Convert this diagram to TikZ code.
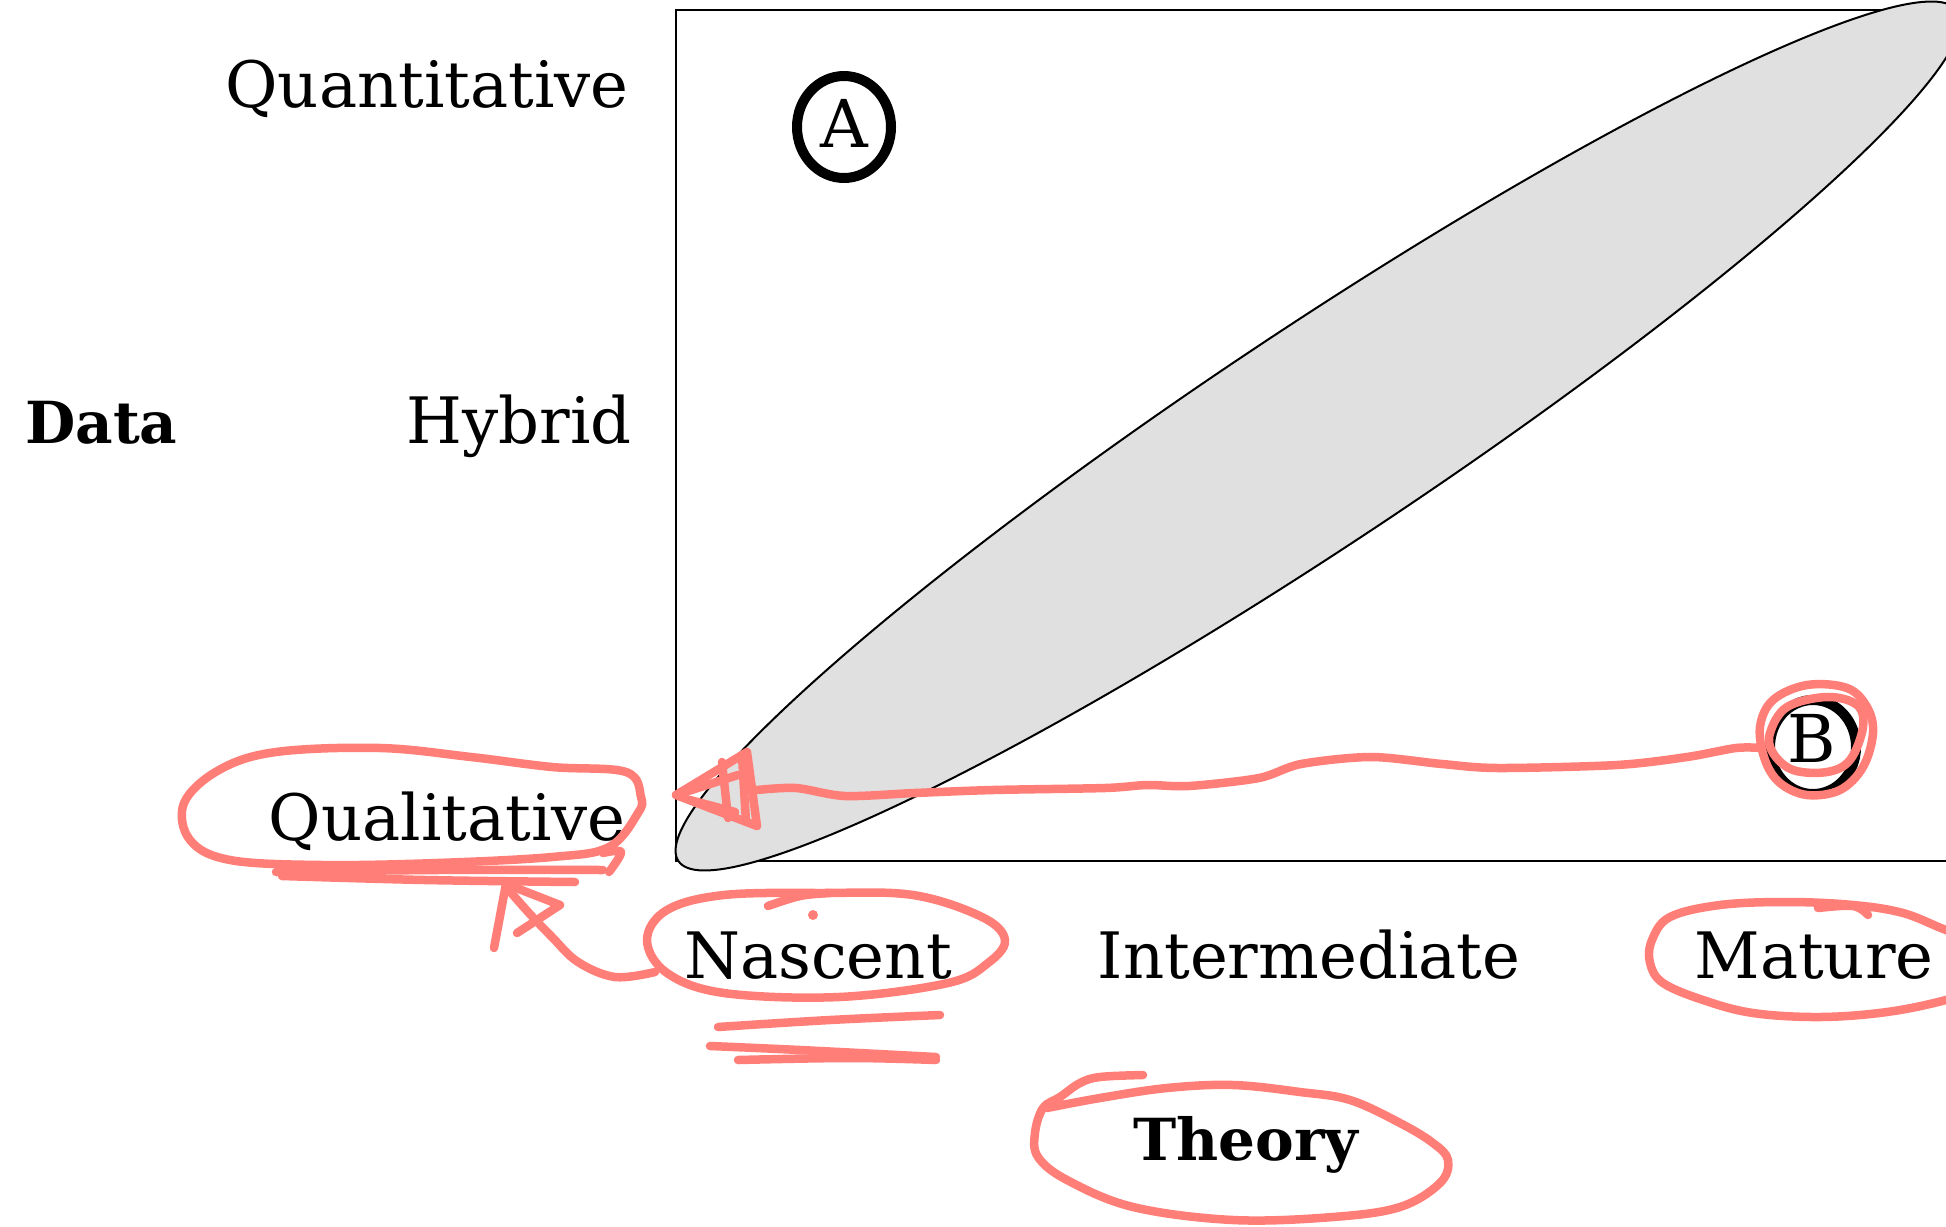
\documentclass[tikz,border=0pt]{standalone}
\usepackage{fontspec}
\setmainfont{DejaVu Serif}
\definecolor{annc}{HTML}{FF7F78}
\definecolor{band}{gray}{0.88}
\begin{document}
\begin{tikzpicture}[x=1pt,y=-1pt,
  lbl/.style={font=\fontsize{64}{70}\selectfont, inner sep=0pt},
  boldlbl/.style={font=\fontsize{58}{64}\selectfont\bfseries, inner sep=0pt},
  letter/.style={font=\fontsize{66}{70}\selectfont, inner sep=0pt, anchor=base},
  ring/.style={draw=black, line width=10pt},
  ann/.style={draw=annc, line width=8.5pt, line cap=round, line join=round},
]
\useasboundingbox (0,0) rectangle (1946,1226);
\fill[white] (0,0) rectangle (1946,1226);
\begin{scope}
\clip (0,0) rectangle (1946,1226);
% frame
\draw[line width=2.5pt] (676,10) rectangle (2000,861);
% band
\filldraw[fill=band, draw=black, line width=2pt, rotate around={33.6:(1318,436)}]
  (1318,436) ellipse [x radius=768pt, y radius=108pt];
% axis labels
\node[lbl, anchor=base east] (quant) at (629,107) {Quantitative};
\node[lbl, anchor=base east] (hyb) at (632,443) {Hybrid};
\node[lbl, anchor=base east] (qual) at (626,840) {Qualitative};
\node[boldlbl, anchor=base west] (data) at (25,443) {Data};
\node[lbl, anchor=base] (nasc) at (818,978) {Nascent};
\node[lbl, anchor=base] (inter) at (1309,978) {Intermediate};
\node[lbl, anchor=base] (mat) at (1814,978) {Mature};
\node[boldlbl, anchor=base] (theory) at (1246,1160) {Theory};
% circled letters
\node[letter] (A) at (844,147) {A};
\draw[ring] (844,127) ellipse [x radius=47pt, y radius=51pt];
\node[letter] (B) at (1812,762) {B};
\draw[ring] (1813,747) ellipse [x radius=43pt, y radius=47pt];

% ---- hand-drawn annotations ----
% loop around Qualitative
\draw[ann] plot[smooth cycle, tension=0.6] coordinates {(626,772) (552,767) (471,757) (380,748) (276,752) (219,770) (184,803) (190,840) (230,860) (322,865) (437,863) (552,857) (609,847) (638,813) (641,797)};
\draw[ann] plot[smooth, tension=0.6] coordinates {(276,872) (437,870) (603,870)};
\draw[ann] plot[smooth, tension=0.6] coordinates {(282,876) (425,880) (575,882)};
\draw[ann] plot[smooth, tension=0.6] coordinates {(603,853) (621,852) (609,872)};
% arrow Nascent -> Qualitative
\draw[ann] plot[smooth, tension=0.6] coordinates {(655,972) (615,977) (578,962) (552,937) (529,913) (507,888)};
\draw[ann] (494,948) -- (506,884) -- (560,905) -- (517,933);
% loop around Nascent
\draw[ann] plot[smooth cycle, tension=0.6] coordinates {(822,893) (913,895) (982,917) (1005,940) (988,963) (948,983) (839,997) (724,993) (667,973) (647,940) (667,910) (724,895)};
\draw[ann] plot[smooth, tension=0.6] coordinates {(768,906) (800,896) (830,893)};
\fill[annc] (813,915) circle (5pt);
\draw[ann] plot[smooth, tension=0.6] coordinates {(718,1027) (830,1020) (940,1015)};
\draw[ann] plot[smooth, tension=0.6] coordinates {(710,1046) (800,1050) (936,1057)};
\draw[ann] plot[smooth, tension=0.6] coordinates {(738,1060) (850,1058) (936,1060)};
% loop around Theory
\draw[ann] plot[smooth, tension=0.6] coordinates {(1143,1075) (1100,1077) (1080,1083) (1060,1097) (1043,1108) (1035,1133) (1038,1157) (1067,1180) (1133,1207) (1233,1220) (1333,1217) (1400,1207) (1440,1183) (1448,1160) (1433,1143) (1400,1123) (1350,1100) (1300,1092) (1233,1085) (1167,1088) (1100,1098) (1047,1108)};
% loop around Mature
\draw[ann] plot[smooth, tension=0.6] coordinates {(1990,945) (1946,930) (1903,913) (1853,905) (1787,902) (1720,905) (1670,917) (1652,940) (1650,963) (1663,983) (1703,1000) (1753,1013) (1820,1017) (1887,1012) (1946,1000) (1990,985)};
\draw[ann] plot[smooth, tension=0.6] coordinates {(1818,908) (1853,906) (1868,915)};
% loops around B
\draw[ann] plot[smooth cycle, tension=0.6] coordinates {(1760,727) (1773,700) (1807,685) (1847,688) (1867,707) (1873,733) (1863,767) (1840,790) (1807,795) (1780,783) (1765,760)};
\draw[ann] plot[smooth cycle, tension=0.6] coordinates {(1770,733) (1787,707) (1827,697) (1857,705) (1863,727) (1850,760) (1827,772) (1793,770) (1773,753)};
% line from B to the band's start
\draw[ann] plot[smooth, tension=0.5] coordinates {(1762,748) (1736,748) (1687,757) (1617,765) (1498,768) (1442,764) (1371,757) (1301,764) (1259,778) (1189,786) (1147,785) (1105,788) (993,790) (915,793) (845,796) (796,788) (757,790)};
% scribbled arrowhead at the frame
\draw[ann] (676,795) -- (747,752) -- (757,826) -- cycle;
\draw[ann] (676,795) -- (738,775);
\draw[ann] (722,762) -- (728,818);
\draw[ann] (742,756) -- (746,822);
\draw[ann] (690,800) -- (735,812);
\end{scope}
\end{tikzpicture}
\end{document}
